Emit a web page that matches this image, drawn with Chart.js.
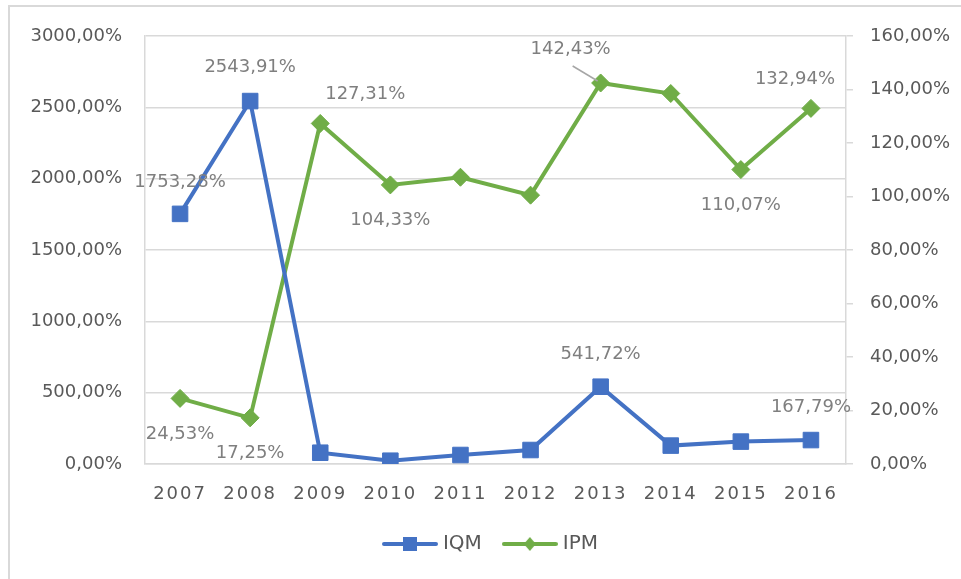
<!DOCTYPE html>
<html>
<head>
<meta charset="utf-8">
<script src="https://cdn.jsdelivr.net/npm/chart.js@4.4.1/dist/chart.umd.min.js"></script>
<style>
    html, body { margin: 0; padding: 0; background: #fff; }
    canvas { display: block; }
</style>
</head>
<body>
<canvas id="grafico" width="961" height="579"></canvas>
<script>
const anos = ['2007', '2008', '2009', '2010', '2011', '2012', '2013', '2014', '2015', '2016'];
const valoresIQM = [1753.28, 2543.91, 79, 23, 63, 98, 541.72, 129, 157, 167.79];
const valoresIPM = [24.53, 17.25, 127.31, 104.33, 107.2, 100.5, 142.43, 138.5, 110.07, 132.94];
const ticksIQM = [0, 500, 1000, 1500, 2000, 2500, 3000];
const ticksIPM = [0, 20, 40, 60, 80, 100, 120, 140, 160];

// onde fica cada rótulo de valor (deslocamento em px a partir do ponto), null = sem rótulo
const rotulosIQM = [[0, -32], [0, -34], null, null, null, null, [0, -32], null, null, [0, -33]];
const rotulosIPM = [[0, 36], [0, 35], [45, -29], [0, 35], null, null, [-30, -34, true], null, [0, 36], [-16, -29]];

const fonte = '"DejaVu Sans", sans-serif';
const azul = '#4472C4';
const verde = '#70AD47';

function formatar(v) {
    return v.toFixed(2).replace('.', ',') + '%';
}

function criarSimbolo(cor, forma) {
    const c = document.createElement('canvas');
    c.width = 56;
    c.height = 20;
    const g = c.getContext('2d');
    g.strokeStyle = cor;
    g.lineWidth = 4;
    g.lineCap = 'round';
    g.beginPath();
    g.moveTo(2, 10);
    g.lineTo(54, 10);
    g.stroke();
    g.fillStyle = cor;
    if (forma === 'rect') {
        g.fillRect(21, 3, 14, 14);
    } else {
        g.beginPath();
        g.moveTo(28, 3);
        g.lineTo(34, 10);
        g.lineTo(28, 17);
        g.lineTo(22, 10);
        g.closePath();
        g.fill();
    }
    return c;
}

const simbolos = [criarSimbolo(azul, 'rect'), criarSimbolo(verde, 'diamond')];

const moldura = {
    id: 'moldura',
    beforeDraw(chart) {
        const ctx = chart.ctx;
        ctx.save();
        ctx.fillStyle = '#fff';
        ctx.fillRect(0, 0, chart.width, chart.height);
        ctx.strokeStyle = '#d9d9d9';
        ctx.lineWidth = 2;
        ctx.beginPath();
        ctx.moveTo(9, chart.height);
        ctx.lineTo(9, 6);
        ctx.lineTo(chart.width, 6);
        ctx.stroke();
        ctx.restore();
    }
};

const espacamento = {
    id: 'espacamento',
    afterLayout(chart) {
        const s = chart.scales.x;
        if (s._espacado) return;
        const original = s.drawLabels;
        s.drawLabels = function (area) {
            this.ctx.save();
            this.ctx.letterSpacing = '2px';
            original.call(this, area);
            this.ctx.restore();
        };
        s._espacado = true;
    }
};

const rotulos = {
    id: 'rotulos',
    afterDatasetsDraw(chart) {
        const ctx = chart.ctx;
        const posicoes = [rotulosIQM, rotulosIPM];
        ctx.save();
        ctx.font = '18px ' + fonte;
        ctx.textAlign = 'center';
        ctx.textBaseline = 'middle';
        chart.data.datasets.forEach((ds, i) => {
            const meta = chart.getDatasetMeta(i);
            meta.data.forEach((pt, j) => {
                const p = posicoes[i][j];
                if (!p) return;
                const x = pt.x + p[0];
                const y = pt.y + p[1];
                if (p[2]) {
                    ctx.strokeStyle = '#a6a6a6';
                    ctx.lineWidth = 1.5;
                    ctx.beginPath();
                    ctx.moveTo(x + 2, y + 17);
                    ctx.lineTo(pt.x - 3, pt.y - 2);
                    ctx.stroke();
                }
                ctx.fillStyle = '#7f7f7f';
                ctx.fillText(formatar(ds.data[j]), x, y);
            });
        });
        ctx.restore();
    }
};

new Chart(document.getElementById('grafico'), {
    type: 'line',
    data: {
        labels: anos,
        datasets: [{
            label: 'IQM',
            data: valoresIQM,
            yAxisID: 'y',
            borderColor: azul,
            backgroundColor: azul,
            borderWidth: 4,
            pointStyle: 'rect',
            pointRadius: 11,
            pointBorderWidth: 1,
            tension: 0
        }, {
            label: 'IPM',
            data: valoresIPM,
            yAxisID: 'y1',
            borderColor: verde,
            backgroundColor: verde,
            borderWidth: 4,
            pointStyle: 'rectRot',
            pointRadius: 9,
            pointBorderWidth: 1,
            tension: 0
        }]
    },
    options: {
        responsive: false,
        animation: false,
        layout: { padding: { top: 36, bottom: 15, left: 24, right: 0 } },
        plugins: {
            tooltip: { enabled: false },
            legend: {
                position: 'bottom',
                labels: {
                    color: '#595959',
                    font: { family: fonte, size: 20 },
                    usePointStyle: true,
                    pointStyleWidth: 46,
                    padding: 25,
                    generateLabels(chart) {
                        const itens = Chart.defaults.plugins.legend.labels.generateLabels(chart);
                        itens.forEach((it, i) => { it.pointStyle = simbolos[i]; });
                        return itens;
                    }
                }
            }
        },
        scales: {
            x: {
                offset: true,
                grid: { display: false },
                border: { display: true, color: '#d9d9d9', width: 1.5 },
                ticks: {
                    color: '#595959',
                    font: { family: fonte, size: 18 },
                    padding: 12,
                    autoSkip: false,
                    maxRotation: 0
                },
                afterFit(s) { s.height = 45; }
            },
            y: {
                position: 'left',
                min: 0,
                max: 3000,
                grid: { color: '#d9d9d9', lineWidth: 1.5, drawTicks: false },
                border: { display: true, color: '#d9d9d9', width: 1.5 },
                ticks: {
                    color: '#595959',
                    font: { family: fonte, size: 18 },
                    padding: 23,
                    callback: v => formatar(v)
                },
                afterBuildTicks(s) { s.ticks = ticksIQM.map(v => ({ value: v })); },
                afterFit(s) { s.width = 121; }
            },
            y1: {
                position: 'right',
                min: 0,
                max: 160,
                grid: { drawOnChartArea: false, color: '#d9d9d9', lineWidth: 1.5, tickLength: 7 },
                border: { display: true, color: '#d9d9d9', width: 1.5 },
                ticks: {
                    color: '#595959',
                    font: { family: fonte, size: 18 },
                    padding: 17,
                    callback: v => formatar(v)
                },
                afterBuildTicks(s) { s.ticks = ticksIPM.map(v => ({ value: v })); },
                afterFit(s) { s.width = 115; }
            }
        }
    },
    plugins: [moldura, espacamento, rotulos]
});
</script>
</body>
</html>
